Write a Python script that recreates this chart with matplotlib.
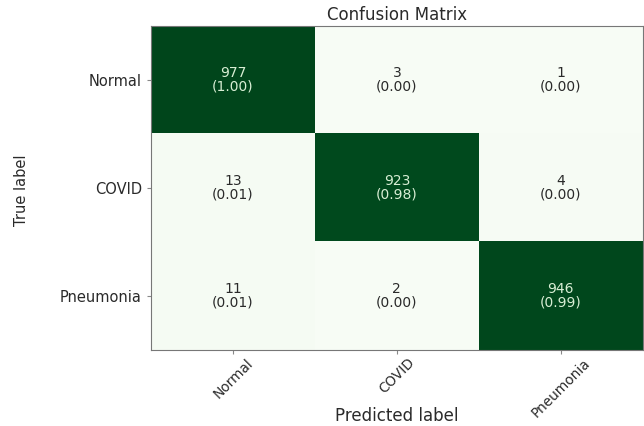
import numpy as np
import matplotlib
matplotlib.use("Agg")
import matplotlib.pyplot as plt

# Class names and confusion counts (rows = true, columns = predicted)
classes = ["Normal", "COVID", "Pneumonia"]
counts_normal = [977, 3, 1]
counts_covid = [13, 923, 4]
counts_pneumonia = [11, 2, 946]

cm = np.array([counts_normal, counts_covid, counts_pneumonia])
cm_norm = cm / cm.sum(axis=1, keepdims=True)

plt.rcParams["font.family"] = ["DejaVu Sans"]

fig = plt.figure(figsize=(6.44, 4.26), dpi=100)
ax = fig.add_axes([0.2345, 0.178, 0.7635, 0.761])

ax.imshow(cm_norm, cmap="Greens", vmin=0, vmax=1, aspect="auto",
          interpolation="nearest")

thresh = 0.5
for i in range(cm.shape[0]):
    for j in range(cm.shape[1]):
        color = "#d8eed4" if cm_norm[i, j] > thresh else "#2a2a2a"
        ax.text(j, i, f"{cm[i, j]}\n({cm_norm[i, j]:.2f})",
                ha="center", va="center", color=color, fontsize=10,
                linespacing=0.95)

ax.set_xticks(range(len(classes)))
ax.set_yticks(range(len(classes)))
ax.set_xticklabels(classes, rotation=45, fontsize=9.8, color="#2a2a2a")
ax.set_yticklabels(classes, fontsize=10.5, color="#2a2a2a")
ax.tick_params(axis="x", length=3, pad=1, color="#888888")
ax.tick_params(axis="y", length=3, color="#888888")
for s in ax.spines.values():
    s.set_color("#777777")

ax.set_title("Confusion Matrix", fontsize=12, color="#2a2a2a", pad=4)
fig.text(397 / 644, 1 - 416 / 426, "Predicted label", fontsize=12,
         color="#2a2a2a", ha="center", va="center")
fig.text(22 / 644, 1 - 190 / 426, "True label", fontsize=10.5,
         color="#2a2a2a", ha="center", va="center", rotation=90)

fig.savefig("out.png", dpi=100)
